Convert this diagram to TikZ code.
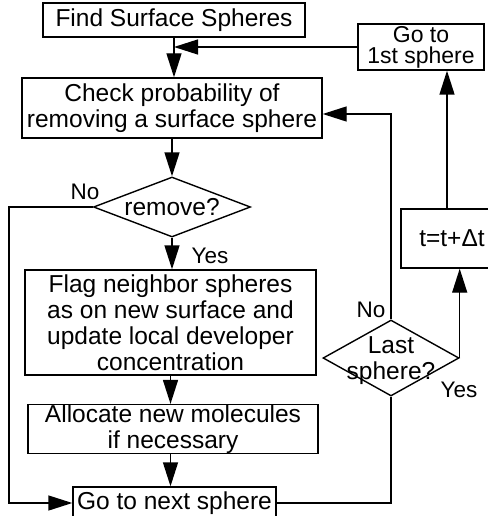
\documentclass[tikz,border=0pt]{standalone}
\usepackage{fontspec}
\setmainfont{Liberation Sans}
\usetikzlibrary{shapes.geometric,arrows.meta}
\newcommand{\dtext}[1]{\makebox[0pt]{\smash{\raisebox{-9.5pt}{\begin{tabular}[c]{@{}c@{}}#1\end{tabular}}}}}

\begin{document}
\begin{tikzpicture}[x=1pt,y=-1pt,line width=1.4pt,
    box/.style={draw,rectangle,inner sep=0pt,align=center,font=\fontsize{24.5}{26}\selectfont},
    decision/.style={draw,diamond,inner sep=0pt,font=\fontsize{24.5}{26}\selectfont},
    lbl/.style={inner sep=0pt,font=\fontsize{22.5}{24}\selectfont},
    flow/.style={-{Triangle[length=24pt,width=15pt]}}]
        \useasboundingbox (0,0) rectangle (487,516);
        \node[box,minimum width=262pt,minimum height=34pt] (find) at (174,20) {Find Surface Spheres};
        \node[box,minimum width=126pt,minimum height=46pt,font=\fontsize{23}{21}\selectfont] (first) at (421,47) {Go to\\1st sphere};
        \node[box,minimum width=300pt,minimum height=60pt] (check) at (172,108) {Check probability of\\removing a surface sphere};
        \node[decision,minimum width=157pt,minimum height=60pt] (remove) at (172,207) {\dtext{remove?}};
        \node[box,minimum width=291pt,minimum height=105pt] (flag) at (170.5,322.5) {Flag neighbor spheres\\as on new surface and\\update local developer\\concentration};
        \node[box,minimum width=290pt,minimum height=48pt] (alloc) at (173,429) {Allocate new molecules\\if necessary};
        \node[box,minimum width=203pt,minimum height=32pt] (next) at (174.5,503) {Go to next sphere};
        \node[decision,minimum width=136pt,minimum height=76pt] (last) at (391,358) {\dtext{Last\\sphere?}};
        \node[box,minimum width=102pt,minimum height=59pt] (tstep) at (452,238.5) {t=t+Δt};
        \coordinate (rail) at (9,207);
        \draw[flow] (find.south) -- (find.south |- check.north);
        \draw[flow] (first.west) -- (first.west -| find.south);
        \draw[flow] (check.south) -- (check.south |- remove.north);
        \draw[flow] (remove.south) -- (remove.south |- flag.north);
        \draw[flow] (flag.south) -- (flag.south |- alloc.north);
        \draw[flow] (alloc.south -| flag.south) -- (flag.south |- next.north);
        \draw[flow] (remove.west) -- (rail) |- (next.west);
        \draw (next.east) -| (last.south);
        \draw[flow] (last.north) |- ([yshift=-6pt]check.east);
        \draw[flow] (last.east) -- (last.east |- tstep.south);
        \draw[flow] ([xshift=-5pt]tstep.north) -- ([xshift=-5pt]tstep.north |- first.south);
        \node[lbl] (noremove) at (85,192) {No};
        \node[lbl] (yesremove) at (210,256) {Yes};
        \node[lbl] (nolast) at (371,310) {No};
        \node[lbl] (yeslast) at (459,390) {Yes};
\end{tikzpicture}
\end{document}
